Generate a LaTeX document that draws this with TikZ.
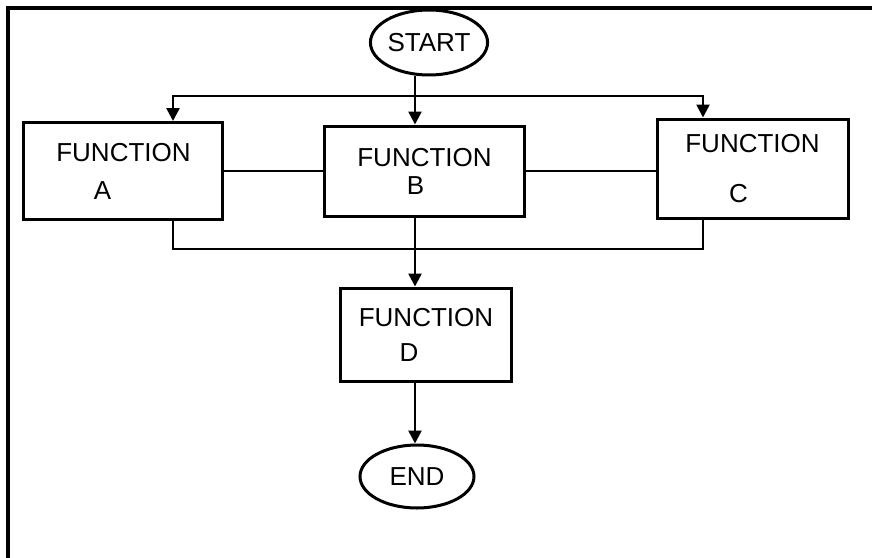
\documentclass[tikz,border=0pt]{standalone}
\usepackage{fontspec}
\setmainfont{Liberation Sans}
\usetikzlibrary{positioning, arrows.meta, shapes.geometric}

\begin{document}
\begin{tikzpicture}[x=1pt, y=1pt, on grid, >={Triangle[width=13pt, length=13pt]},
    func/.style={draw, rectangle, line width=3pt, inner sep=0pt, align=center, font=\fontsize{26}{31}\selectfont},
    term/.style={draw, ellipse, line width=3pt, inner sep=0pt, font=\fontsize{26}{31}\selectfont},
    flow/.style={line width=2.6pt}]
    \useasboundingbox (-424.5,-386) rectangle (447.5,171);
    \draw[line width=3.2pt] (-416.5,-400) -- (-416.5,163) -- (460,163);

    \node[func, minimum width=199pt, minimum height=90pt] (B) at (0,0) {FUNCTION\\[-3pt]B\hspace*{18pt}};
    \node[func, minimum width=199pt, minimum height=97pt] (A) [left=301pt of B] {FUNCTION\\[7pt]A\hspace*{42pt}};
    \node[func, minimum width=191pt, minimum height=99pt] (C) [right=328pt of B, yshift=2.5pt] {FUNCTION\\[19pt]C\hspace*{28pt}};
    \node[func, minimum width=170pt, minimum height=93pt] (D) [below=163.5pt of B, xshift=1.5pt] {FUNCTION\\[4pt]D\hspace*{34pt}};
    \node[term, minimum width=104pt, minimum height=65pt] (start) [above=128.5pt of B, xshift=4.5pt] {START};
    \node[term, minimum width=114pt, minimum height=63pt] (end) [below=142pt of D, xshift=-9pt] {END};

    \coordinate (jT) at (-9.5,75);
    \coordinate (jB) at (-9.5,-78);

    \draw[flow, ->] (start.south -| jT) -- (B.north -| jT);
    \draw[flow, ->] (jT) -| ([xshift=49.5pt]A.north);
    \draw[flow, ->] (jT) -| ([xshift=-49.5pt]C.north);
    \draw[flow] (A.east) -- (B.west);
    \draw[flow] (B.east) -- (B.east -| C.west);
    \draw[flow] ([xshift=49.5pt]A.south) |- (jB);
    \draw[flow] ([xshift=-49.5pt]C.south) |- (jB);
    \draw[flow, ->] (B.south -| jB) -- (D.north -| jB);
    \draw[flow, ->] (D.south -| jB) -- (end.north -| jB);
\end{tikzpicture}
\end{document}
